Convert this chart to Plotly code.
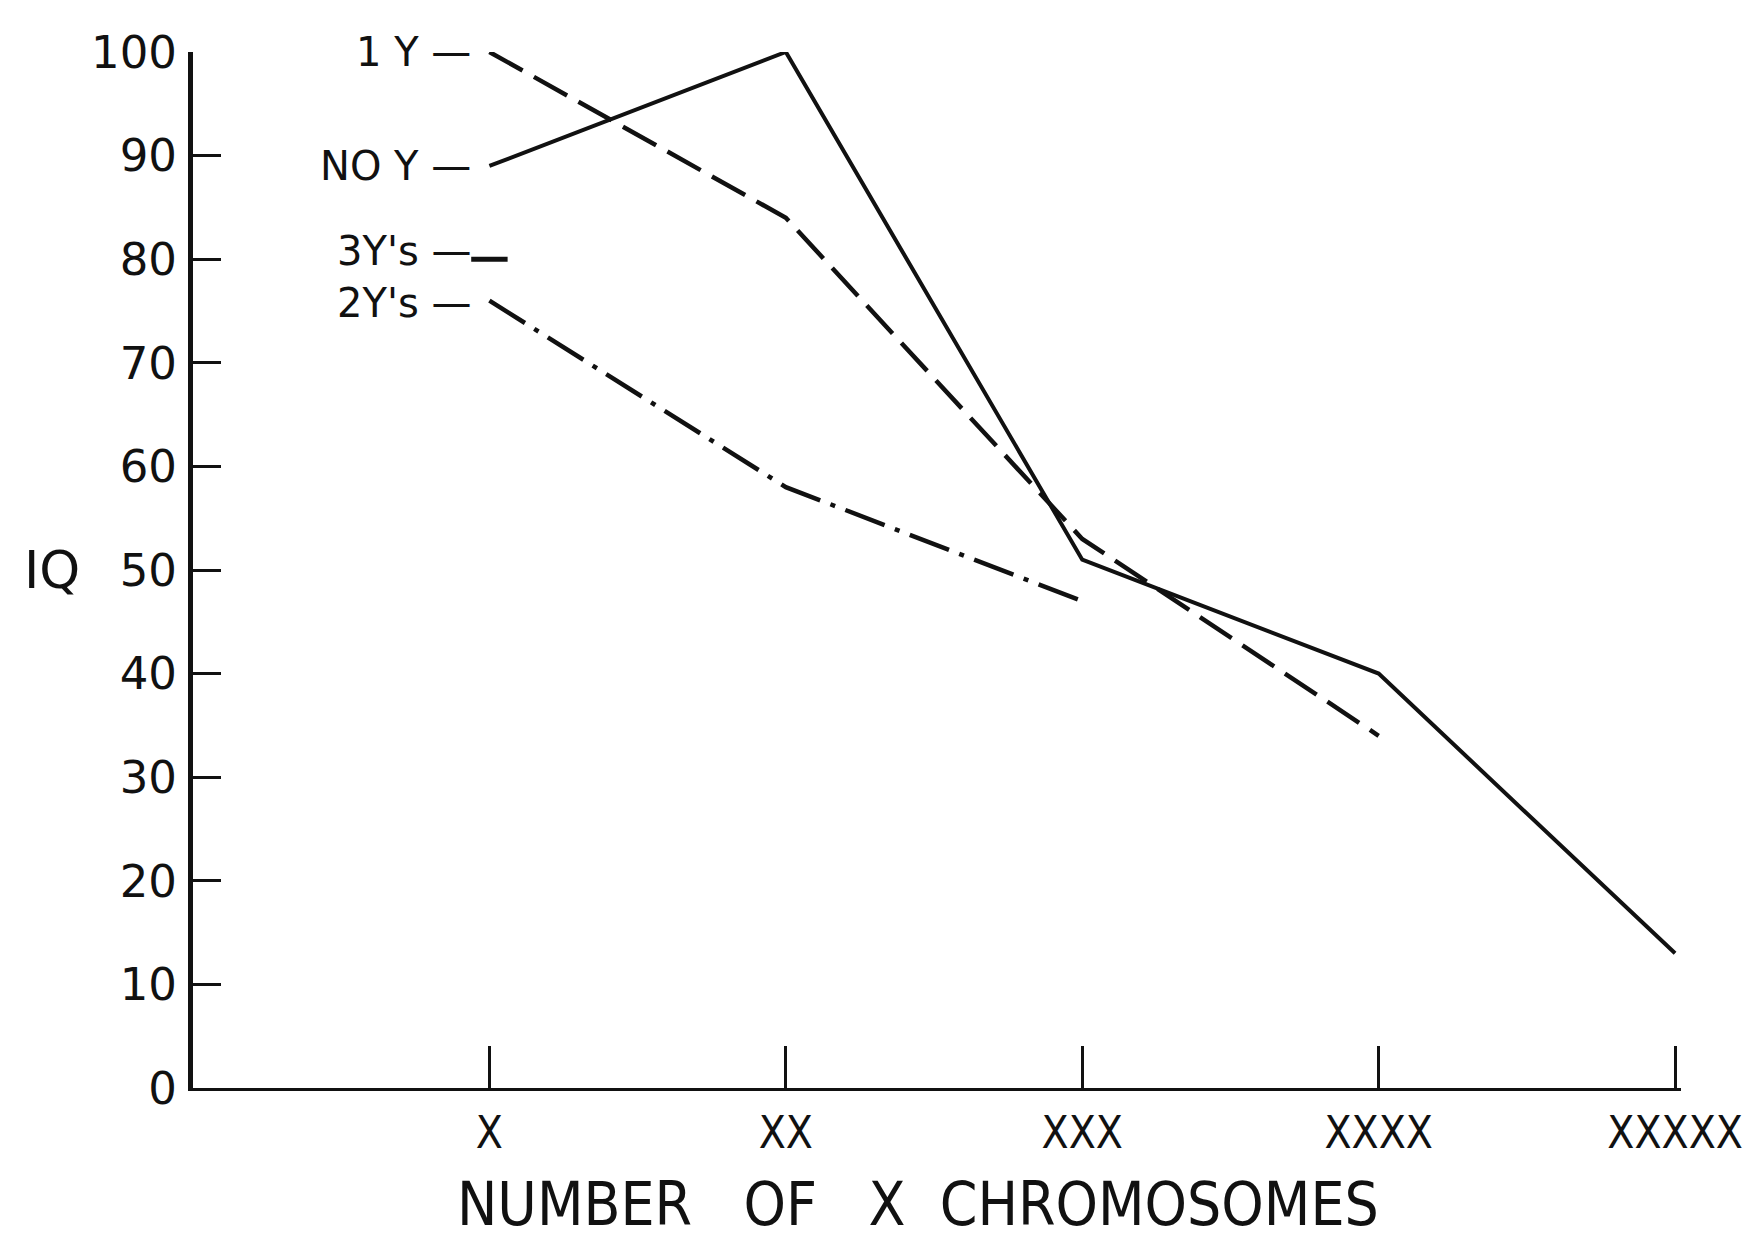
import plotly.graph_objects as go

categories = ["X", "XX", "XXX", "XXXX", "XXXXX"]
cat_pos = [1, 2, 3, 4, 5]

no_y = [89, 100, 51, 40, 13]
one_y = [100, 84, 53, 34]
two_ys = [76, 58, 47]
three_ys = [80]

y_ticks = [0, 10, 20, 30, 40, 50, 60, 70, 80, 90, 100]

FONT = "DejaVu Sans"
CFONT = "DejaVu Sans Condensed, DejaVu Sans"
INK = "#111111"

fig = go.Figure()

fig.add_trace(go.Scatter(
    x=cat_pos[:len(no_y)], y=no_y, mode="lines", name="NO Y",
    line=dict(color=INK, width=4), showlegend=False))
fig.add_trace(go.Scatter(
    x=cat_pos[:len(one_y)], y=one_y, mode="lines", name="1 Y",
    line=dict(color=INK, width=4.5, dash="38px,13px"), showlegend=False))
fig.add_trace(go.Scatter(
    x=cat_pos[:len(two_ys)], y=two_ys, mode="lines", name="2Y's",
    line=dict(color=INK, width=4.5, dash="42px,11px,5px,11px"), showlegend=False))
fig.add_trace(go.Scatter(
    x=cat_pos[:len(three_ys)], y=three_ys, mode="markers", name="3Y's",
    marker=dict(symbol="line-ew", size=26, line=dict(color=INK, width=5)),
    showlegend=False))

labels = [("1 Y —", one_y[0], 0), ("NO Y —", no_y[0], 0),
          ("3Y's —", three_ys[0], 8), ("2Y's —", two_ys[0], -2)]
for txt, yv, ys in labels:
    fig.add_annotation(x=cat_pos[0], y=yv, xref="x", yref="y", text=txt,
                       showarrow=False, xanchor="right", yanchor="middle",
                       xshift=-16, yshift=ys,
                       font=dict(family=FONT, size=40, color=INK))

fig.add_annotation(x=-0.095, y=0.5, xref="paper", yref="paper", text="IQ",
                   showarrow=False, xanchor="center", yanchor="middle",
                   font=dict(family=FONT, size=52, color=INK))

fig.add_annotation(x=0.487, y=-0.112, xref="paper", yref="paper",
                   text="NUMBER\u00a0\u00a0 OF\u00a0\u00a0 X\u00a0 CHROMOSOMES",
                   showarrow=False, xanchor="center", yanchor="middle",
                   font=dict(family=CFONT, size=60, color=INK))

fig.update_layout(
    width=1755, height=1246,
    margin=dict(l=185, r=82, t=44, b=166),
    paper_bgcolor="white", plot_bgcolor="white",
    xaxis=dict(
        range=[0, 5.02], tickvals=cat_pos, ticktext=categories,
        ticks="inside", ticklen=42, tickwidth=3, tickcolor=INK,
        showline=True, linecolor=INK, linewidth=3,
        showgrid=False, zeroline=False, ticklabelstandoff=4,
        tickfont=dict(family=CFONT, size=44, color=INK),
    ),
    yaxis=dict(
        range=[0, 100], tickvals=y_ticks,
        ticks="inside", ticklen=28, tickwidth=3, tickcolor=INK,
        showline=True, linecolor=INK, linewidth=5,
        showgrid=False, zeroline=False, ticklabelstandoff=2,
        tickfont=dict(family=FONT, size=45, color=INK),
    ),
)

fig.write_html("out.html")
